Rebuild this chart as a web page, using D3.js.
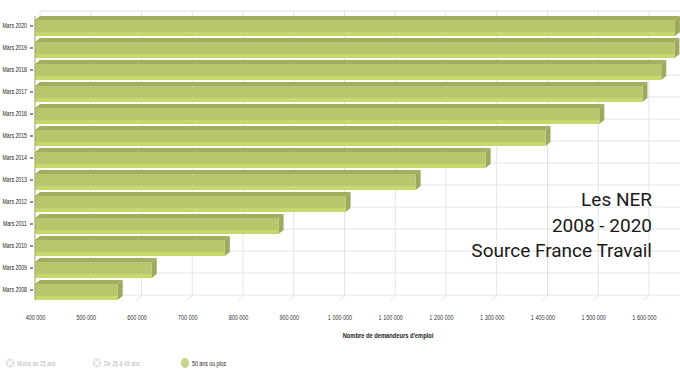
<!DOCTYPE html>
<html>
<head>
<meta charset="utf-8">
<script src="https://cdn.jsdelivr.net/npm/d3@7"></script>
<style>
  body { margin: 0; background: #fff; }
  svg { display: block; }
</style>
</head>
<body>
<div id="chart"></div>
<script>
// Données (NER 50 ans ou plus, mars de chaque année)
const categories = ['Mars 2008', 'Mars 2009', 'Mars 2010', 'Mars 2011', 'Mars 2012', 'Mars 2013', 'Mars 2014',
    'Mars 2015', 'Mars 2016', 'Mars 2017', 'Mars 2018', 'Mars 2019', 'Mars 2020'];
const values = [563000, 630000, 774000, 880000, 1012000, 1150000, 1288000,
    1406000, 1512000, 1597000, 1634000, 1660000, 1661000];
const xTicks = [400000, 500000, 600000, 700000, 800000, 900000, 1000000, 1100000,
    1200000, 1300000, 1400000, 1500000, 1600000];
const legendItems = ['Moins de 25 ans', 'De 25 à 49 ans', '50 ans ou plus'];
const legendActive = [false, false, true];
const noteLines = ['Les NER', '2008 - 2020', 'Source France Travail'];

const W = 680, H = 372;
const dx = 5, dy = 4; // profondeur 3D
const plotLeft = 35, plotRight = 680, plotTop = 15, floorY = 300;
const smallFont = '"Liberation Sans", Arial, sans-serif';

const svg = d3.select('#chart').append('svg')
    .attr('width', W)
    .attr('height', H);

// texte étroit (police condensée non dispo)
function condense(sel, k) {
    sel.each(function() {
        const w = this.getComputedTextLength();
        d3.select(this).attr('textLength', w * k).attr('lengthAdjust', 'spacingAndGlyphs');
    });
}

const x = d3.scaleLinear()
    .domain([400000, 1671000])
    .range([plotLeft, plotRight]);

const y = d3.scaleBand()
    .domain(categories.slice().reverse())
    .range([plotTop, 301])
    .paddingInner(0.09)
    .paddingOuter(0.045);

const fmt = d3.formatLocale({decimal: ',', thousands: ' ', grouping: [3], currency: ['', '€']}).format(',d');

// Grille (mur du fond + sol)
const grid = svg.append('g').attr('class', 'grid');
grid.append('line')
    .attr('x1', plotLeft + dx).attr('x2', plotRight)
    .attr('y1', 11).attr('y2', 11)
    .attr('stroke', '#e2e2e2');
xTicks.forEach(t => {
    grid.append('line')
        .attr('x1', x(t) + dx).attr('x2', x(t) + dx)
        .attr('y1', 11).attr('y2', floorY - dy)
        .attr('stroke', '#e4e4e4');
    grid.append('line')
        .attr('x1', x(t)).attr('x2', x(t) + dx)
        .attr('y1', floorY).attr('y2', floorY - dy)
        .attr('stroke', '#e4e4e4');
});
categories.forEach(c => {
    const yc = y(c) + y.bandwidth() / 2;
    grid.append('line')
        .attr('x1', plotLeft + dx).attr('x2', plotRight)
        .attr('y1', yc + 5).attr('y2', yc + 5)
        .attr('stroke', '#e4e4e4');
});

// Barres 3D
const bars = svg.append('g').attr('class', 'bars');
categories.forEach((c, i) => {
    const v = values[i];
    const y0 = y(c);
    const yb = y0 + y.bandwidth();
    const yf = y0 + dy;
    const x0 = x(400000);
    const xv = x(v);
    const g = bars.append('g');
    // face du dessus
    g.append('polygon')
        .attr('points', [[x0, yf], [x0 + dx, y0], [xv + dx, y0], [xv, yf]].join(' '))
        .attr('fill', '#a4ad60');
    // face de côté
    g.append('polygon')
        .attr('points', [[xv, yf], [xv + dx, y0], [xv + dx, yb - dy], [xv, yb]].join(' '))
        .attr('fill', '#a0a85c');
    // face avant
    g.append('rect')
        .attr('x', x0).attr('y', yf)
        .attr('width', xv - x0).attr('height', yb - yf)
        .attr('fill', '#b8c66e');
    g.append('rect')
        .attr('x', x0).attr('y', yb - 4)
        .attr('width', xv - x0).attr('height', 4)
        .attr('fill', '#c6d86b');
});

// Axe vertical
svg.append('line')
    .attr('x1', plotLeft).attr('x2', plotLeft)
    .attr('y1', plotTop + 1).attr('y2', floorY)
    .attr('stroke', '#9ba164');

const yAxis = svg.append('g')
    .attr('transform', `translate(${plotLeft - 2},0)`)
    .call(d3.axisLeft(y).tickSize(3).tickPadding(3));
yAxis.select('.domain').remove();
yAxis.selectAll('line').attr('stroke', '#222');
yAxis.selectAll('text')
    .attr('fill', '#222')
    .style('font-family', smallFont)
    .style('font-size', '7px')
    .call(condense, 0.74);

const xAxis = svg.append('g')
    .attr('transform', `translate(0,${floorY})`)
    .call(d3.axisBottom(x).tickValues(xTicks).tickFormat(fmt).tickSize(0).tickPadding(15));
xAxis.select('.domain').remove();
xAxis.selectAll('text')
    .attr('fill', '#333')
    .style('font-family', smallFont)
    .style('font-size', '7px')
    .call(condense, 0.78);

svg.append('text')
    .attr('x', 388)
    .attr('y', 338)
    .attr('text-anchor', 'middle')
    .attr('fill', '#222')
    .style('font-family', smallFont)
    .style('font-size', '7px')
    .style('font-weight', 'bold')
    .text("Nombre de demandeurs d'emploi")
    .call(condense, 0.82);

// Légende
const legendX = [10, 97, 185];
legendItems.forEach((name, i) => {
    const lg = svg.append('g').attr('transform', `translate(${legendX[i]},363)`);
    if (legendActive[i]) {
        lg.append('ellipse').attr('cx', 0).attr('cy', 0).attr('rx', 4).attr('ry', 5).attr('fill', '#c6d68a');
    } else {
        lg.append('circle').attr('r', 4.5).attr('fill', '#e2e2e2');
        lg.append('path').attr('d', 'M-2.5,-2.5L2.5,2.5M2.5,-2.5L-2.5,2.5')
            .attr('stroke', '#fff').attr('stroke-width', 1.5);
    }
    lg.append('text')
        .attr('x', 7).attr('y', 2.5)
        .attr('fill', legendActive[i] ? '#222' : '#b5b5b5')
        .style('font-family', smallFont)
        .style('font-size', '7px')
        .text(name)
        .call(condense, 0.75);
});

// Note
noteLines.forEach((line, i) => {
    svg.append('text')
        .attr('x', 652)
        .attr('y', 206 + i * 25.5)
        .attr('text-anchor', 'end')
        .attr('fill', '#1a1a1a')
        .style('font-family', 'Roboto, sans-serif')
        .style('font-size', '19px')
        .text(line);
});
</script>
</body>
</html>
